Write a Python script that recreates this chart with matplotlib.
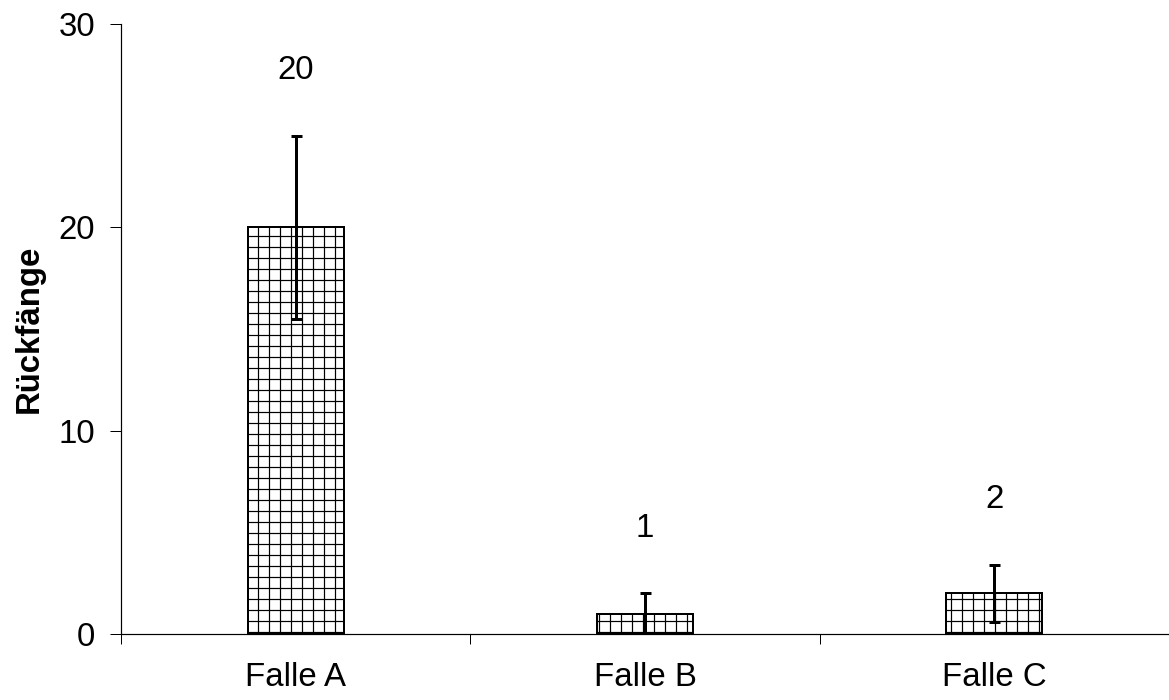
import matplotlib
matplotlib.use("Agg")
import matplotlib.pyplot as plt
import numpy as np

# data
categories = ['Falle A', 'Falle B', 'Falle C']
values = [20, 1, 2]
errors = [4.5, 1.0, 1.4]

dpi = 200 / 3.0          # chosen so that the '+' hatch spacing is ~11 px
def px(p):
    return p * 72.0 / dpi

plt.rcParams['font.family'] = ['Liberation Sans', 'DejaVu Sans']
plt.rcParams['hatch.linewidth'] = px(1.2)
plt.rcParams['hatch.color'] = 'black'

fig = plt.figure(figsize=(1169 / dpi, 700 / dpi), dpi=dpi)
ax = fig.add_axes([121 / 1169, 1 - 634 / 700, 1 - 121 / 1169, (634 - 24) / 700])

x = np.arange(len(categories))
ax.bar(x, values, width=0.275, color='white', edgecolor='black',
       linewidth=px(2), hatch='+', zorder=2)
ax.errorbar(x, values, yerr=errors, fmt='none', ecolor='black',
            elinewidth=px(3), capsize=px(5.5), capthick=px(3), zorder=3)

for xi, v, e in zip(x, values, errors):
    ax.text(xi, v + e + 3.2, str(v), ha='center', va='center', fontsize=px(33))

ax.set_xlim(-0.5, 2.5)
ax.set_ylim(0, 30)
ax.set_yticks([0, 10, 20, 30])

ax.set_xticks(np.arange(-0.5, 3.0, 1.0))
ax.set_xticklabels([])
ax.set_xticks(x, minor=True)
ax.set_xticklabels(categories, minor=True)
ax.tick_params(axis='x', which='major', direction='out', length=px(10), width=px(1))
ax.tick_params(axis='x', which='minor', length=0, pad=px(28), labelsize=px(33))
ax.tick_params(axis='y', direction='out', length=px(11), width=px(1),
               pad=px(15), labelsize=px(33))

for s in ['top', 'right']:
    ax.spines[s].set_visible(False)
for s in ['left', 'bottom']:
    ax.spines[s].set_linewidth(px(1.2))

ax.set_ylabel('Rückfänge', fontsize=px(33), fontweight='bold', labelpad=px(14))

fig.savefig('out.png', dpi=dpi)
